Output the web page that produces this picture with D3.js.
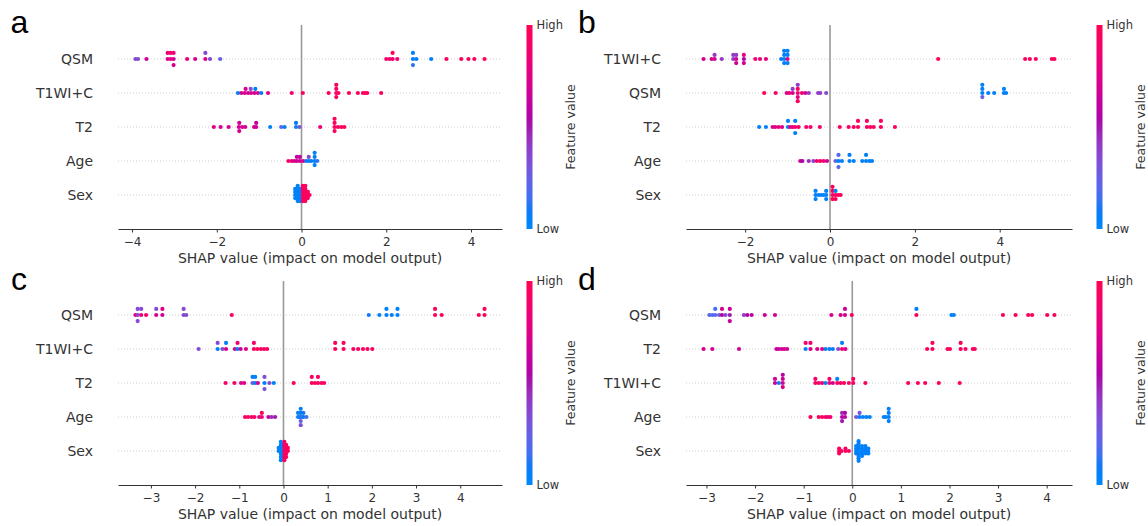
<!DOCTYPE html>
<html>
<head>
<meta charset="utf-8">
<script src="https://cdn.jsdelivr.net/npm/d3@7"></script>
<style>
  body { margin: 0; background: #fff; }
</style>
</head>
<body>
<svg id="chart" width="1148" height="526"></svg>
<script>
// ---- data: [shap value, feature value (0 = low, 1 = high)] ----
const aFeatures = ["QSM", "T1WI+C", "T2", "Age", "Sex"];
const aTicks = [-4, -2, 0, 2, 4];
const aQSM = [
  [-3.92, 0.35], [-3.86, 0.35], [-3.66, 0.7],
  [-3.16, 0.75], [-3.16, 0.85], [-3.09, 0.75], [-3.09, 0.85],
  [-3.02, 0.7], [-3.02, 0.85], [-3.02, 0.7],
  [-2.70, 0.8], [-2.51, 0.7], [-2.27, 0.7], [-2.27, 0.35], [-2.16, 0.35], [-1.92, 0.25],
  [2.00, 0.9], [2.08, 0.9], [2.15, 0.85], [2.15, 0.95], [2.26, 0.85],
  [2.63, 0.05], [2.63, 0.05], [2.63, 0.12], [2.71, 0.05],
  [3.06, 0.05], [3.42, 0.95], [3.77, 0.95], [3.94, 0.95], [4.08, 0.95], [4.32, 0.95]
];
const aT1 = [
  [-1.50, 0.05], [-1.42, 0.7], [-1.34, 0.7], [-1.32, 0.75], [-1.26, 0.7],
  [-1.19, 0.7], [-1.20, 0.35], [-1.11, 0.7], [-1.09, 0.08], [-1.03, 0.7], [-0.95, 0.08],
  [-0.79, 0.75], [-0.23, 0.85], [0.03, 0.95], [0.64, 0.95],
  [0.82, 0.95], [0.82, 0.95], [0.82, 0.95], [0.82, 0.95], [0.87, 0.95],
  [1.12, 0.95], [1.33, 0.95], [1.45, 0.95], [1.50, 0.95], [1.55, 0.95], [1.88, 0.95]
];
const aT2 = [
  [-2.07, 0.75], [-1.91, 0.7], [-1.72, 0.7],
  [-1.48, 0.7], [-1.47, 0.65], [-1.47, 0.7], [-1.40, 0.7], [-1.33, 0.7],
  [-1.12, 0.65], [-1.07, 0.7], [-1.07, 0.6],
  [-0.74, 0.05], [-0.48, 0.2], [-0.40, 0.05], [-0.13, 0.05], [-0.13, 0.08], [-0.05, 0.3],
  [0.44, 0.85],
  [0.78, 0.95], [0.78, 0.95], [0.78, 0.95], [0.78, 0.95], [0.86, 0.95], [0.94, 0.95], [1.01, 0.95]
];
const aAge = [
  [-0.31, 0.9], [-0.23, 0.8], [-0.17, 0.7], [-0.11, 0.7], [-0.11, 0.65],
  [-0.04, 0.7], [-0.04, 0.6], [0.04, 0.7], [0.11, 0.1], [0.17, 0.05], [0.17, 0.35],
  [0.23, 0.05], [0.31, 0.05], [0.31, 0.05], [0.31, 0.05], [0.31, 0.05], [0.37, 0.12]
];
const aSex = [
  [-0.15, 0.05], [-0.15, 0.05], [-0.15, 0.05], [-0.15, 0.05],
  [-0.09, 0.05], [-0.09, 0.05], [-0.09, 0.05], [-0.09, 0.05], [-0.09, 0.05], [-0.09, 0.05],
  [-0.04, 0.05], [-0.04, 0.05], [-0.04, 0.05], [-0.04, 0.05], [-0.04, 0.05],
  [0.03, 0.95], [0.03, 0.95], [0.03, 0.95], [0.03, 0.95], [0.03, 0.95], [0.03, 0.95],
  [0.09, 0.95], [0.09, 0.95], [0.09, 0.95], [0.09, 0.95], [0.09, 0.95], [0.09, 0.95],
  [0.15, 0.95], [0.15, 0.95], [0.15, 0.95], [0.19, 0.95]
];

const bFeatures = ["T1WI+C", "QSM", "T2", "Age", "Sex"];
const bTicks = [-2, 0, 2, 4];
const bT1 = [
  [-2.98, 0.7], [-2.79, 0.7], [-2.72, 0.7], [-2.72, 0.4], [-2.55, 0.4],
  [-2.28, 0.4], [-2.28, 0.4], [-2.21, 0.7], [-2.21, 0.4], [-2.21, 0.7],
  [-2.03, 0.55], [-2.03, 0.8], [-2.03, 0.7],
  [-1.76, 0.85], [-1.65, 0.85], [-1.51, 0.8],
  [-1.15, 0.08], [-1.08, 0.05], [-1.08, 0.05], [-1.08, 0.05], [-1.08, 0.05],
  [-1.00, 0.75], [-1.00, 0.05], [-1.00, 0.05], [-1.00, 0.05],
  [2.55, 0.95], [4.60, 0.95], [4.71, 0.95], [4.85, 0.95], [5.23, 0.95], [5.29, 0.95]
];
const bQSM = [
  [-1.55, 0.95], [-1.28, 0.9], [-1.02, 0.75], [-0.96, 0.8],
  [-0.88, 0.75], [-0.88, 0.4],
  [-0.76, 0.85], [-0.76, 0.95], [-0.76, 0.8], [-0.76, 0.4], [-0.76, 0.95],
  [-0.66, 0.85], [-0.58, 0.7], [-0.50, 0.4], [-0.28, 0.4], [-0.23, 0.4], [-0.09, 0.35],
  [3.59, 0.05], [3.59, 0.05], [3.59, 0.25], [3.59, 0.05],
  [3.73, 0.05], [3.87, 0.05], [4.10, 0.05], [4.10, 0.05], [4.15, 0.05]
];
const bT2 = [
  [-1.67, 0.05], [-1.51, 0.05], [-1.35, 0.75], [-1.29, 0.75], [-1.21, 0.8], [-1.13, 0.75],
  [-0.99, 0.05], [-0.99, 0.05], [-0.94, 0.75], [-0.88, 0.8],
  [-0.82, 0.85], [-0.82, 0.05], [-0.82, 0.05], [-0.74, 0.9],
  [-0.56, 0.9], [-0.46, 0.9], [-0.24, 0.9], [0.23, 0.95],
  [0.44, 0.95], [0.56, 0.95], [0.66, 0.95], [0.66, 0.95],
  [0.87, 0.95], [0.87, 0.95], [0.95, 0.95], [1.03, 0.95], [1.20, 0.95], [1.20, 0.95], [1.53, 0.95]
];
const bAge = [
  [-0.70, 0.65], [-0.65, 0.55], [-0.50, 0.45], [-0.39, 0.4], [-0.31, 0.9], [-0.23, 0.9],
  [-0.15, 0.85], [-0.07, 0.7], [0.13, 0.25], [0.20, 0.05], [0.20, 0.2], [0.20, 0.2], [0.28, 0.05],
  [0.46, 0.05], [0.46, 0.05], [0.56, 0.05],
  [0.76, 0.05], [0.85, 0.05], [0.85, 0.05], [0.93, 0.05], [0.99, 0.05]
];
const bSex = [
  [-0.34, 0.05], [-0.34, 0.05], [-0.34, 0.05], [-0.27, 0.05], [-0.21, 0.05], [-0.15, 0.05],
  [-0.09, 0.05], [-0.09, 0.05], [-0.09, 0.05],
  [0.06, 0.95], [0.06, 0.95], [0.06, 0.95], [0.06, 0.95],
  [0.13, 0.95], [0.13, 0.05], [0.13, 0.95], [0.19, 0.95], [0.25, 0.95]
];

const cFeatures = ["QSM", "T1WI+C", "T2", "Age", "Sex"];
const cTicks = [-3, -2, -1, 0, 1, 2, 3, 4];
const cQSM = [
  [-3.35, 0.8], [-3.30, 0.35], [-3.30, 0.35], [-3.30, 0.35],
  [-3.22, 0.85], [-3.22, 0.35], [-3.11, 0.9],
  [-2.88, 0.7], [-2.88, 0.35], [-2.74, 0.7], [-2.74, 0.75],
  [-2.26, 0.35], [-2.26, 0.35], [-2.20, 0.35], [-1.17, 0.9],
  [1.93, 0.1], [2.17, 0.05], [2.33, 0.05], [2.33, 0.05], [2.45, 0.05], [2.58, 0.05], [2.58, 0.05],
  [3.43, 0.95], [3.43, 0.95], [3.58, 0.95], [4.42, 0.95], [4.55, 0.95], [4.55, 0.95]
];
const cT1 = [
  [-1.92, 0.35], [-1.49, 0.05], [-1.49, 0.35], [-1.38, 0.35], [-1.30, 0.7], [-1.30, 0.05],
  [-1.10, 0.7], [-1.04, 0.05], [-1.04, 0.9], [-0.97, 0.7], [-0.85, 0.75],
  [-0.67, 0.95], [-0.67, 0.9], [-0.59, 0.95], [-0.51, 0.95], [-0.44, 0.9], [-0.37, 0.95],
  [1.17, 0.95], [1.17, 0.95], [1.36, 0.95], [1.36, 0.95],
  [1.58, 0.95], [1.69, 0.95], [1.80, 0.95], [1.90, 0.95], [2.01, 0.95]
];
const cT2 = [
  [-1.31, 0.9], [-1.11, 0.9], [-0.96, 0.75], [-0.89, 0.75],
  [-0.70, 0.3], [-0.70, 0.05], [-0.64, 0.05], [-0.64, 0.05], [-0.58, 0.7],
  [-0.43, 0.05], [-0.43, 0.35], [-0.43, 0.3], [-0.32, 0.35], [-0.22, 0.05],
  [0.23, 0.95], [0.64, 0.95], [0.64, 0.95], [0.71, 0.95], [0.78, 0.95], [0.78, 0.95], [0.86, 0.95], [0.92, 0.95]
];
const cAge = [
  [-0.87, 0.95], [-0.80, 0.95], [-0.72, 0.95], [-0.66, 0.9], [-0.55, 0.8],
  [-0.49, 0.85], [-0.49, 0.95], [-0.34, 0.6], [-0.27, 0.45], [-0.19, 0.5],
  [0.33, 0.05], [0.33, 0.05], [0.36, 0.1],
  [0.39, 0.05], [0.39, 0.05], [0.39, 0.25], [0.39, 0.05], [0.39, 0.3],
  [0.42, 0.2], [0.45, 0.05], [0.45, 0.1], [0.52, 0.15]
];
const cSex = [
  [-0.11, 0.05], [-0.11, 0.05],
  [-0.06, 0.05], [-0.06, 0.05], [-0.06, 0.05], [-0.06, 0.05], [-0.06, 0.05], [-0.06, 0.05], [-0.06, 0.05],
  [-0.02, 0.05], [-0.02, 0.05], [-0.02, 0.05], [-0.02, 0.05], [-0.02, 0.05],
  [0.02, 0.95], [0.02, 0.95], [0.02, 0.95], [0.02, 0.95], [0.02, 0.95], [0.02, 0.95], [0.02, 0.95],
  [0.06, 0.95], [0.06, 0.95], [0.06, 0.95], [0.06, 0.95], [0.06, 0.95],
  [0.10, 0.95], [0.10, 0.95]
];

const dFeatures = ["QSM", "T2", "T1WI+C", "Age", "Sex"];
const dTicks = [-3, -2, -1, 0, 1, 2, 3, 4];
const dQSM = [
  [-2.94, 0.2], [-2.88, 0.2], [-2.82, 0.2], [-2.82, 0.15], [-2.74, 0.3],
  [-2.68, 0.55], [-2.68, 0.7], [-2.61, 0.35], [-2.52, 0.5], [-2.52, 0.65], [-2.52, 0.65],
  [-2.23, 0.4], [-2.16, 0.55], [-2.07, 0.6], [-1.80, 0.65], [-1.59, 0.7],
  [-0.43, 0.7], [-0.24, 0.7], [-0.15, 0.7], [-0.15, 0.65], [-0.01, 0.9],
  [1.32, 0.95], [1.32, 0.05], [2.04, 0.05], [2.09, 0.05],
  [3.10, 0.95], [3.36, 0.95], [3.62, 0.95], [3.70, 0.95], [4.01, 0.95], [4.16, 0.95]
];
const dT2 = [
  [-3.06, 0.7], [-2.88, 0.7], [-2.33, 0.7],
  [-1.56, 0.65], [-1.51, 0.65], [-1.45, 0.7], [-1.40, 0.65], [-1.34, 0.7],
  [-0.96, 0.05], [-0.96, 0.9], [-0.86, 0.7], [-0.86, 0.9], [-0.72, 0.75], [-0.62, 0.8],
  [-0.55, 0.05], [-0.47, 0.05], [-0.40, 0.1], [-0.29, 0.35], [-0.21, 0.9], [-0.21, 0.05], [-0.14, 0.7],
  [1.54, 0.95], [1.65, 0.95], [1.65, 0.95], [1.96, 0.95], [2.01, 0.95],
  [2.23, 0.95], [2.23, 0.95], [2.33, 0.95], [2.48, 0.95], [2.52, 0.95]
];
const dT1 = [
  [-1.59, 0.65], [-1.59, 0.7], [-1.51, 0.05],
  [-1.43, 0.7], [-1.43, 0.65], [-1.43, 0.7], [-1.43, 0.6],
  [-0.76, 0.9], [-0.76, 0.9], [-0.69, 0.9], [-0.62, 0.85], [-0.55, 0.05],
  [-0.47, 0.85], [-0.47, 0.9], [-0.40, 0.7], [-0.31, 0.95], [-0.31, 0.05],
  [-0.24, 0.9], [-0.17, 0.95], [-0.07, 0.9], [0.02, 0.95], [0.02, 0.95],
  [0.27, 0.95], [1.15, 0.95], [1.35, 0.95], [1.50, 0.95], [1.78, 0.95], [2.21, 0.95]
];
const dAge = [
  [-0.86, 0.95], [-0.69, 0.95], [-0.62, 0.95], [-0.55, 0.9], [-0.50, 0.9], [-0.45, 0.85],
  [-0.21, 0.55], [-0.21, 0.45], [-0.21, 0.5], [-0.15, 0.6], [-0.15, 0.55],
  [0.08, 0.3], [0.15, 0.05], [0.15, 0.3], [0.22, 0.05], [0.29, 0.05], [0.36, 0.05],
  [0.65, 0.05], [0.69, 0.05], [0.75, 0.05], [0.75, 0.05], [0.75, 0.05], [0.75, 0.05]
];
const dSex = [
  [-0.27, 0.95], [-0.27, 0.95], [-0.27, 0.95], [-0.22, 0.95], [-0.14, 0.95], [-0.14, 0.95], [-0.07, 0.9],
  [0.08, 0.05], [0.08, 0.05], [0.08, 0.05], [0.08, 0.05],
  [0.13, 0.05], [0.13, 0.05], [0.13, 0.05], [0.13, 0.05], [0.13, 0.05], [0.13, 0.05], [0.13, 0.05], [0.13, 0.05], [0.13, 0.05],
  [0.20, 0.05], [0.20, 0.05], [0.20, 0.05], [0.20, 0.05], [0.20, 0.05],
  [0.27, 0.05], [0.27, 0.05], [0.27, 0.05], [0.27, 0.05],
  [0.33, 0.05], [0.33, 0.05], [0.33, 0.05]
];

// panel layout
const panels = [
  { letter: "a", features: aFeatures, rows: [aQSM, aT1, aT2, aAge, aSex], ticks: aTicks, left: 118, right: 502, top: 25, bottom: 229, lx: 10.5, ly: 33 },
  { letter: "b", features: bFeatures, rows: [bT1, bQSM, bT2, bAge, bSex], ticks: bTicks, left: 686, right: 1072, top: 25, bottom: 229, lx: 578, ly: 33 },
  { letter: "c", features: cFeatures, rows: [cQSM, cT1, cT2, cAge, cSex], ticks: cTicks, left: 118, right: 502, top: 281, bottom: 485, lx: 11, ly: 290 },
  { letter: "d", features: dFeatures, rows: [dQSM, dT2, dT1, dAge, dSex], ticks: dTicks, left: 686, right: 1072, top: 281, bottom: 485, lx: 578, ly: 290 }
];

const FONT = "'DejaVu Sans', sans-serif";
const svg = d3.select("#chart");

// shap red_blue colormap (LCh interpolation)
function shapColor(t) {
  const h = 266.93 + t * (380.32 - 266.93);
  const c = 70 + 20 * t;
  const l = t < 0.5 ? 54 - 28 * t : 40 + 28 * (t - 0.5);
  return d3.hcl(h % 360, c, l).formatRgb();
}

// colorbar gradient
const grad = svg.append("defs").append("linearGradient")
  .attr("id", "shapGrad").attr("x1", 0).attr("x2", 0).attr("y1", 1).attr("y2", 0);
grad.selectAll("stop").data(d3.range(0, 1.0001, 0.05)).join("stop")
  .attr("offset", d => d)
  .attr("stop-color", d => shapColor(d));

// beeswarm offsets like shap's summary_plot
function swarm(vals) {
  const N = vals.length, nbins = 100;
  const lo = d3.min(vals), hi = d3.max(vals);
  const quant = vals.map(v => Math.round(nbins * (v - lo) / (hi - lo + 1e-8)));
  const inds = d3.range(N).sort((a, b) => quant[a] - quant[b] || a - b);
  const ys = new Array(N).fill(0);
  let layer = 0, last = -1;
  for (const i of inds) {
    if (quant[i] !== last) layer = 0;
    ys[i] = Math.ceil(layer / 2) * ((layer % 2) * 2 - 1);
    layer++;
    last = quant[i];
  }
  const m = d3.max(ys, v => v + 1);
  return ys.map(v => v * 0.9 * (0.4 / m));
}

panels.forEach(drawPanel);

function drawPanel(p) {
  const g = svg.append("g");
  const all = p.rows.flat().map(d => d[0]);
  const lo = d3.min(all), hi = d3.max(all), pad = (hi - lo) * 0.05;
  const x = d3.scaleLinear().domain([lo - pad, hi + pad]).range([p.left, p.right]);
  const n = p.features.length;
  const y = d3.scaleLinear().domain([-1, n]).range([p.bottom, p.top]);
  const rowY = i => y(n - 1 - i);

  // dotted row guides
  g.selectAll(".guide").data(p.features).join("line")
    .attr("class", "guide")
    .attr("x1", p.left).attr("x2", p.right)
    .attr("y1", (d, i) => rowY(i)).attr("y2", (d, i) => rowY(i))
    .attr("stroke", "#cfcfcf").attr("stroke-width", 1)
    .attr("stroke-dasharray", "1 2");

  // zero line
  g.append("line")
    .attr("x1", x(0)).attr("x2", x(0))
    .attr("y1", p.top).attr("y2", p.bottom)
    .attr("stroke", "#999").attr("stroke-width", 1.6);

  // dots
  p.rows.forEach((row, i) => {
    const ys = swarm(row.map(d => d[0]));
    g.append("g").selectAll("circle").data(row).join("circle")
      .attr("cx", d => x(d[0]))
      .attr("cy", (d, j) => y(n - 1 - i + ys[j]))
      .attr("r", 2.1)
      .attr("fill", d => shapColor(d[1]));
  });

  // feature labels
  g.selectAll(".flabel").data(p.features).join("text")
    .attr("class", "flabel")
    .attr("x", p.left - 25)
    .attr("y", (d, i) => rowY(i) + 5)
    .attr("text-anchor", "end")
    .attr("font-family", FONT).attr("font-size", 14).attr("fill", "#333")
    .text(d => d);

  // x axis
  const ax = g.append("g")
    .attr("transform", `translate(0,${p.bottom})`)
    .call(d3.axisBottom(x).tickValues(p.ticks).tickSize(3.5).tickSizeOuter(0).tickPadding(4.5).tickFormat(d3.format("d")));
  ax.select(".domain").attr("stroke", "#333");
  ax.selectAll(".tick line").attr("stroke", "#333");
  ax.selectAll("text").attr("font-family", FONT).attr("font-size", 12).attr("fill", "#333");

  g.append("text")
    .attr("x", (p.left + p.right) / 2).attr("y", p.bottom + 33.5)
    .attr("text-anchor", "middle")
    .attr("font-family", FONT).attr("font-size", 14).attr("fill", "#333")
    .text("SHAP value (impact on model output)");

  // colorbar
  const cx = p.right + 24.5;
  g.append("rect")
    .attr("x", cx).attr("y", p.top).attr("width", 6).attr("height", p.bottom - p.top)
    .attr("fill", "url(#shapGrad)");
  g.append("text").attr("x", cx + 10).attr("y", p.top + 4.3)
    .attr("font-family", FONT).attr("font-size", 11.5).attr("fill", "#333").text("High");
  g.append("text").attr("x", cx + 10).attr("y", p.bottom + 4.3)
    .attr("font-family", FONT).attr("font-size", 11.5).attr("fill", "#333").text("Low");
  g.append("text")
    .attr("transform", `translate(${cx + 48},${(p.top + p.bottom) / 2}) rotate(-90)`)
    .attr("text-anchor", "middle")
    .attr("font-family", FONT).attr("font-size", 12.5).attr("fill", "#333")
    .text("Feature value");

  // panel letter
  svg.append("text")
    .attr("x", p.lx).attr("y", p.ly)
    .attr("font-family", "'Liberation Sans', Arial, sans-serif")
    .attr("font-size", 32).attr("fill", "#000")
    .text(p.letter);
}
</script>
</body>
</html>
